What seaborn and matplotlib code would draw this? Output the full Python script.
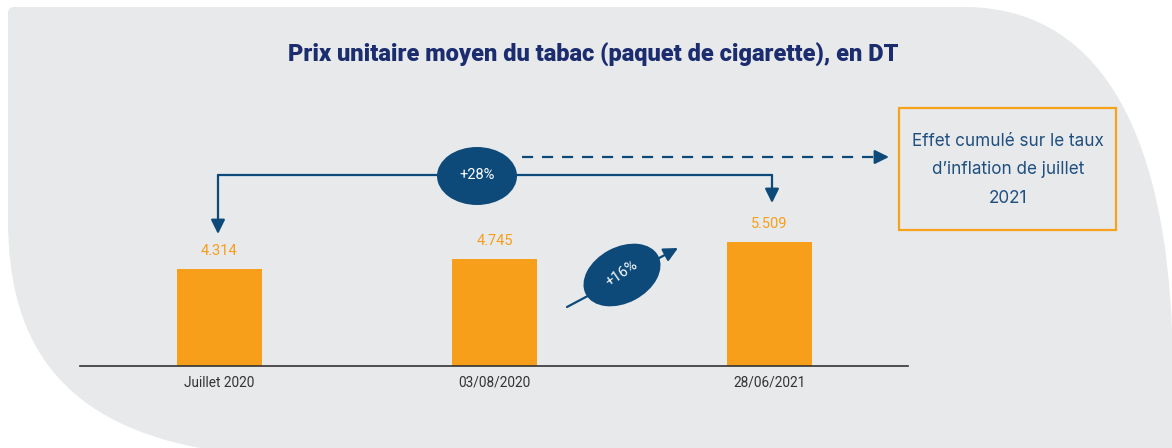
import matplotlib
matplotlib.use("Agg")
import matplotlib.pyplot as plt
from matplotlib.patches import Ellipse, Rectangle, PathPatch
from matplotlib.path import Path
from matplotlib.lines import Line2D
from matplotlib.transforms import IdentityTransform
import seaborn as sns
import pandas as pd

# ---- data ----
categories = ["Juillet 2020", "03/08/2020", "28/06/2021"]
prices = [4.314, 4.745, 5.509]
price_labels = ["4.314", "4.745", "5.509"]
pct_total = "+28%"
pct_step = "+16%"
title = "Prix unitaire moyen du tabac (paquet de cigarette), en DT"
box_text = "Effet cumulé sur le taux\nd\u2019inflation de juillet\n2021"

W, H = 1172, 448
ORANGE = "#f79e1b"
NAVY = "#0d4a7a"
TITLE_C = "#1b2d6e"
BG = "#e8e9eb"

sns.set_theme(style="white")
plt.rcParams["font.family"] = ["Roboto", "DejaVu Sans"]

fig = plt.figure(figsize=(W / 100, H / 100), dpi=100)
fig.patch.set_facecolor("white")

def P(x, y):
    """pixel (y down) -> display coords"""
    return (x, H - y)

def F(x, y):
    return (x / W, 1 - y / H)

# background rounded shape
verts = [P(14, 7), P(968, 7), P(1110, 10), P(1165, 150), P(1172, 330),
         P(1172, 448), P(200, 448), P(50, 420), P(8, 330), P(8, 220),
         P(8, 13), P(8, 7), P(14, 7), P(14, 7)]
codes = [Path.MOVETO, Path.LINETO, Path.CURVE4, Path.CURVE4, Path.CURVE4,
         Path.LINETO, Path.LINETO, Path.CURVE4, Path.CURVE4, Path.CURVE4,
         Path.LINETO, Path.CURVE3, Path.CURVE3, Path.CLOSEPOLY]
fig.add_artist(PathPatch(Path(verts, codes), facecolor=BG, edgecolor="none",
                         transform=IdentityTransform(), zorder=0))

# axes
base_y, top_y = 366, 140
ax = fig.add_axes([80 / W, (H - base_y) / H, (908 - 80) / W, (base_y - top_y) / H])
ax.set_facecolor("none")
df = pd.DataFrame({"cat": categories, "price": prices})
sns.barplot(data=df, x="cat", y="price", color=ORANGE, saturation=1,
            width=0.31, ax=ax, zorder=2, edgecolor="none", linewidth=0)
ax.set_xlim(-0.507, 2.504)
ax.set_ylim(0, 10.04)
ax.set_xlabel("")
ax.set_ylabel("")
ax.set_yticks([])
for s in ["left", "right", "top"]:
    ax.spines[s].set_visible(False)
ax.spines["bottom"].set_color("#333333")
ax.spines["bottom"].set_linewidth(1.2)
ax.tick_params(axis="x", length=0, pad=7, labelsize=9.8, labelcolor="#333333")

for i, (v, lab) in enumerate(zip(prices, price_labels)):
    ax.annotate(lab, xy=(i, v), xytext=(0, 8), textcoords="offset points",
                ha="center", va="bottom", color=ORANGE, fontsize=10.5)

# title
fig.text(*F(593, 55), title, ha="center", va="center", color=TITLE_C,
         fontsize=17, fontweight=900)

# bracket +28%
lw = 1.6
fig.add_artist(Line2D([218, 772], [H - 175, H - 175], color=NAVY, lw=lw,
                      transform=IdentityTransform(), zorder=3))
arrow_kw = dict(arrowstyle="-|>,head_length=0.85,head_width=0.42", color=NAVY,
                lw=lw, shrinkA=0, shrinkB=0, mutation_scale=10)
ax.annotate("", xy=P(218, 234), xytext=P(218, 175), xycoords="figure pixels",
            textcoords="figure pixels", arrowprops=arrow_kw, zorder=3)
ax.annotate("", xy=P(772, 203), xytext=P(772, 175), xycoords="figure pixels",
            textcoords="figure pixels", arrowprops=arrow_kw, zorder=3)

fig.add_artist(Ellipse(P(477, 176), 80, 58, facecolor=NAVY, edgecolor="none",
                       transform=IdentityTransform(), zorder=4))
fig.text(*F(477, 175), pct_total, ha="center", va="center", color="white",
         fontsize=10.5, zorder=5)

# dashed arrow to box
fig.add_artist(Line2D([522, 878], [H - 157, H - 157], color=NAVY, lw=lw,
                      linestyle=(0, (5, 4)), transform=IdentityTransform(), zorder=3))
ax.annotate("", xy=P(889, 157), xytext=P(876, 157), xycoords="figure pixels",
            textcoords="figure pixels", arrowprops=arrow_kw, zorder=3)

# box
fig.add_artist(Rectangle(P(899, 230), 1116 - 899, 230 - 108, facecolor="none",
                         edgecolor="#f7a21b", lw=1.6, transform=IdentityTransform(),
                         zorder=3))
fig.text(*F(1008, 170), box_text, ha="center", va="center", color="#1f4f7f",
         fontsize=12.3, linespacing=1.85, family=["Inter", "DejaVu Sans"])

# +16% arrow and ellipse
ax.annotate("", xy=P(678, 248), xytext=P(567, 307), xycoords="figure pixels",
            textcoords="figure pixels", arrowprops=arrow_kw, zorder=3)
fig.add_artist(Ellipse(P(622, 275), 82, 56, angle=28, facecolor=NAVY,
                       edgecolor="none", transform=IdentityTransform(), zorder=4))
fig.text(*F(622, 274), pct_step, ha="center", va="center", color="white",
         fontsize=10.5, rotation=35, rotation_mode="anchor", zorder=5)

fig.savefig("out.png", dpi=100, facecolor="white")
